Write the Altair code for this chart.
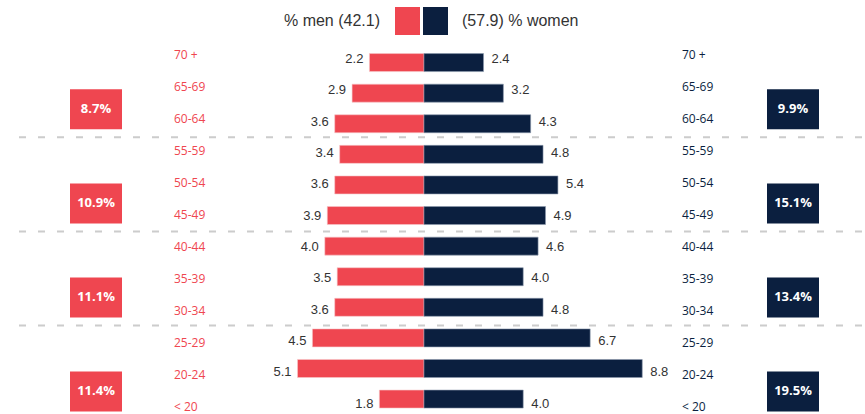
import altair as alt
import pandas as pd

# ---- data ----
ages = ["70 +", "65-69", "60-64", "55-59", "50-54", "45-49",
        "40-44", "35-39", "30-34", "25-29", "20-24", "< 20"]
men = [2.2, 2.9, 3.6, 3.4, 3.6, 3.9, 4.0, 3.5, 3.6, 4.5, 5.1, 1.8]
women = [2.4, 3.2, 4.3, 4.8, 5.4, 4.9, 4.6, 4.0, 4.8, 6.7, 8.8, 4.0]
group_men = [8.7, 10.9, 11.1, 11.4]
group_women = [9.9, 15.1, 13.4, 19.5]
total_men = 42.1
total_women = 57.9

RED = "#EF4650"
NAVY = "#0B1F3F"
TXT = "#333333"

rows = pd.DataFrame({
    "idx": list(range(len(ages))),
    "age": ages,
    "men": men,
    "women": women,
})
rows["men_neg"] = -rows["men"]
rows["zero"] = 0.0
rows["men_lbl"] = [f"{v:.1f}" for v in men]
rows["women_lbl"] = [f"{v:.1f}" for v in women]

groups = pd.DataFrame({
    "g": list(range(len(group_men))),
    "mid": [3 * g + 1 for g in range(len(group_men))],
    "men_lbl": [f"{v}%" for v in group_men],
    "women_lbl": [f"{v}%" for v in group_women],
})
seps = pd.DataFrame({"y": [3 * g + 2.5 for g in range(len(group_men) - 1)]})
legend = pd.DataFrame({
    "men_lbl": [f"% men ({total_men})"],
    "women_lbl": [f"({total_women}) % women"],
})

X = alt.Scale(domain=[-17.097, 17.782], nice=False, zero=False)
Y = alt.Scale(domain=[-1.882, 11.324], nice=False, zero=False, reverse=True)
YL = alt.Scale(domain=[-1.720, 11.229], nice=False, zero=False, reverse=True)

def xq(f):
    return alt.X(f, type="quantitative", scale=X, axis=None)

def yq(f, s=Y):
    return alt.Y(f, type="quantitative", scale=s, axis=None)

base = alt.Chart(rows)

men_bars = base.mark_bar(orient="horizontal", size=18, color=RED,
                         stroke="#f6c7ca", strokeWidth=0.6).encode(
    x=xq("men_neg"), x2="zero", y=yq("idx"))
women_bars = base.mark_bar(orient="horizontal", size=18, color=NAVY,
                           stroke="#8c99ad", strokeWidth=0.6).encode(
    x=xq("zero"), x2="women", y=yq("idx"))

men_vals = base.mark_text(align="right", baseline="middle", dx=-6, font="Liberation Sans",
                          fontSize=13, color=TXT).encode(
    x=xq("men_neg"), y=yq("idx"), text="men_lbl:N")
women_vals = base.mark_text(align="left", baseline="middle", dx=8, font="Liberation Sans",
                            fontSize=13, color=TXT).encode(
    x=xq("women"), y=yq("idx"), text="women_lbl:N")

age_left = base.mark_text(align="left", baseline="middle", font="Open Sans",
                          fontSize=12, color=RED).encode(
    x=alt.value(174), y=yq("idx", YL), text="age:N")
age_right = base.mark_text(align="left", baseline="middle", font="Open Sans",
                           fontSize=12, color=NAVY).encode(
    x=alt.value(682), y=yq("idx", YL), text="age:N")

dashes = alt.Chart(seps).mark_rule(color="#cccccc", strokeWidth=2, strokeDash=[7, 12]).encode(
    y=yq("y"), x=alt.value(19), x2=alt.value(865))

BOX = "M-1,-0.769L1,-0.769L1,0.769L-1,0.769Z"
gbase = alt.Chart(groups)
box_l = gbase.mark_point(shape=BOX, size=2704, filled=True, opacity=1, color=RED,
                         yOffset=19).encode(x=alt.value(96), y=yq("mid"))
box_r = gbase.mark_point(shape=BOX, size=2704, filled=True, opacity=1, color=NAVY,
                         yOffset=19).encode(x=alt.value(793), y=yq("mid"))
box_l_txt = gbase.mark_text(font="Open Sans", fontWeight="bold", fontSize=13, color="white",
                            baseline="middle", yOffset=19).encode(
    x=alt.value(96), y=yq("mid"), text="men_lbl:N")
box_r_txt = gbase.mark_text(font="Open Sans", fontWeight="bold", fontSize=13, color="white",
                            baseline="middle", yOffset=19).encode(
    x=alt.value(793), y=yq("mid"), text="women_lbl:N")

lbase = alt.Chart(legend)
leg_sq_m = lbase.mark_rect(color=RED).encode(
    x=alt.value(395), x2=alt.value(420), y=alt.value(7), y2=alt.value(35))
leg_sq_w = lbase.mark_rect(color=NAVY).encode(
    x=alt.value(423), x2=alt.value(448), y=alt.value(7), y2=alt.value(35))
leg_m = lbase.mark_text(align="right", baseline="middle", font="Liberation Sans",
                        fontSize=16, color=TXT).encode(
    x=alt.value(380), y=alt.value(21), text="men_lbl:N")
leg_w = lbase.mark_text(align="left", baseline="middle", font="Liberation Sans",
                        fontSize=16, color=TXT).encode(
    x=alt.value(462), y=alt.value(21), text="women_lbl:N")

chart = alt.layer(
    dashes, men_bars, women_bars, men_vals, women_vals, age_left, age_right,
    box_l, box_r, box_l_txt, box_r_txt, leg_sq_m, leg_sq_w, leg_m, leg_w
).resolve_scale(y="independent").properties(
    width=865, height=414, padding=0, autosize=alt.AutoSizeParams(type="none"),
    background="white"
).configure_view(strokeWidth=0)

chart.save("out.html", embed_options={"renderer": "svg", "actions": False})
